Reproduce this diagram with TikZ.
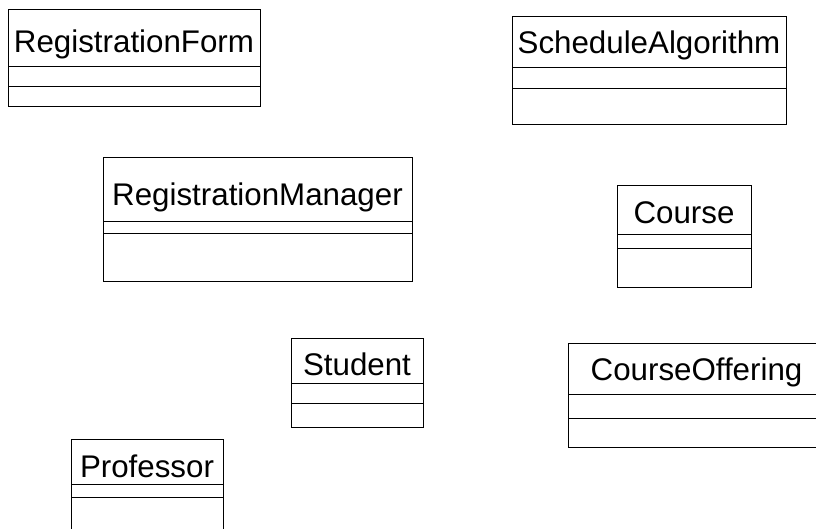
\documentclass[tikz,border=0pt]{standalone}
\usepackage{fontspec}
\setmainfont{Liberation Sans}
\tikzset{
  classline/.style={draw=black, line width=0.9pt},
  classtitle/.style={anchor=base, inner sep=0pt, font=\fontsize{31.3}{37}\selectfont},
}
% #1 name, #2 text, #3 left, #4 right, #5 top, #6 div1, #7 div2, #8 bottom, #9 baseline
\newcommand{\umlclass}[9]{%
  \draw[classline] (#3,#5) rectangle (#4,#8);
  \draw[classline] (#3,#6) -- (#4,#6);
  \draw[classline] (#3,#7) -- (#4,#7);
  \node[classtitle] (#1) at ({(#3+#4)/2},#9) {#2};
}
\begin{document}
\begin{tikzpicture}[x=1pt,y=-1pt]
\useasboundingbox (0,0) rectangle (816,528);
\clip (0,0) rectangle (816,528);
\umlclass{regform}{RegistrationForm}{8}{260}{9.5}{66}{86}{106}{52.5}
\umlclass{schedalg}{ScheduleAlgorithm}{512}{786}{16}{67}{88}{124}{53.5}
\umlclass{regmgr}{RegistrationManager}{103}{412}{157}{221}{233}{281}{205.5}
\umlclass{course}{Course}{617}{751}{185}{234}{248}{287}{223.5}
\umlclass{student}{Student}{291}{423}{338}{383}{403}{427}{375.5}
\umlclass{courseoff}{CourseOffering}{568}{825}{343}{394}{418}{447}{380.5}
\umlclass{professor}{Professor}{71}{223}{439}{484}{497}{540}{477}
\end{tikzpicture}
\end{document}
